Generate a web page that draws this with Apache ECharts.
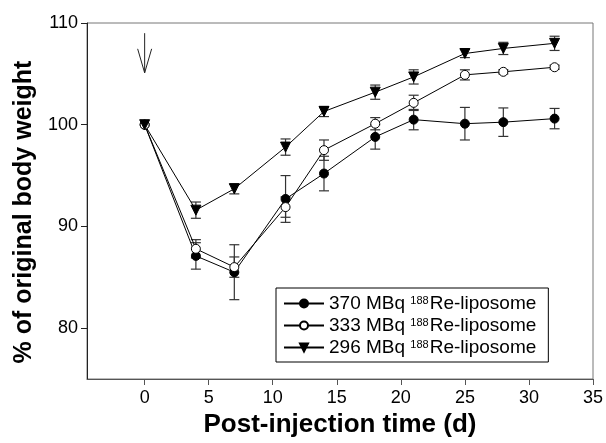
<!DOCTYPE html>
<html><head><meta charset="utf-8">
<script src="https://cdn.jsdelivr.net/npm/echarts@6/dist/echarts.min.js"></script>
<style>html,body{margin:0;padding:0;background:#fff}#c{width:606px;height:443px}</style>
</head><body><div id="c"></div>
<script>
const days = [0, 4, 7, 11, 14, 18, 21, 25, 28, 32];
const doses = ['370 MBq', '333 MBq', '296 MBq'];
const isotopeMass = '188';
const agentName = 'Re-liposome';
const mean370 = [100, 87.1, 85.5, 92.7, 95.2, 98.8, 100.5, 100.1, 100.25, 100.6];
const err370  = [0, 1.3, 2.7, 2.3, 1.7, 1.2, 1.0, 1.6, 1.4, 1.0];
const mean333 = [100, 87.8, 86.0, 91.9, 97.5, 100.1, 102.15, 104.9, 105.2, 105.65];
const err333  = [0, 0.9, 1.0, 1.0, 1.0, 0.6, 0.75, 0.5, 0.2, 0.2];
const mean296 = [100, 91.6, 93.7, 97.8, 101.3, 103.2, 104.7, 107.0, 107.5, 108.0];
const err296  = [0, 0.8, 0.5, 0.8, 0.5, 0.7, 0.7, 0.4, 0.6, 0.7];
const xTicks = [0, 5, 10, 15, 20, 25, 30, 35];
const yTicks = [80, 90, 100, 110];
const arrowDay = 0, arrowTop = 109, arrowTip = 105.1;
const xTitle = 'Post-injection time (d)';
const yTitle = '% of original body weight';

const FONT = 'Liberation Sans';
const chart = echarts.init(document.getElementById('c'), null, {renderer: 'canvas'});

function pairs(xs, ys) { return xs.map((x, i) => [x, ys[i]]); }
function errData(xs, m, e) { return xs.map((x, i) => [x, m[i] - e[i], m[i] + e[i]]); }

function errRender(params, api) {
  const x = api.value(0), lo = api.value(1), hi = api.value(2);
  if (!(hi - lo > 0)) return null;
  const a = api.coord([x, hi]), b = api.coord([x, lo]);
  const w = 5, st = {stroke: '#333', lineWidth: 1.2};
  return {type: 'group', children: [
    {type: 'line', shape: {x1: a[0], y1: a[1], x2: b[0], y2: b[1]}, style: st},
    {type: 'line', shape: {x1: a[0] - w, y1: a[1], x2: a[0] + w, y2: a[1]}, style: st},
    {type: 'line', shape: {x1: b[0] - w, y1: b[1], x2: b[0] + w, y2: b[1]}, style: st}
  ]};
}
function arrowRender(params, api) {
  const t = api.coord([api.value(0), api.value(1)]);
  const p = api.coord([api.value(0), api.value(2)]);
  const st = {stroke: '#222', lineWidth: 1, fill: null};
  return {type: 'group', children: [
    {type: 'line', shape: {x1: t[0], y1: t[1], x2: p[0], y2: p[1]}, style: st},
    {type: 'polyline', shape: {points: [[p[0] - 7, p[1] - 24], [p[0], p[1]], [p[0] + 7, p[1] - 24]]}, style: st}
  ]};
}

function lineSeries(name, data, symbol, fill, rotate, size) {
  return {
    name: name, type: 'line', data: data, symbol: symbol, symbolSize: size, symbolRotate: rotate,
    z: 5, animation: false,
    lineStyle: {color: '#000', width: 1},
    itemStyle: {color: fill, borderColor: '#000', borderWidth: 1}
  };
}
function errSeries(data) {
  return {type: 'custom', renderItem: errRender, data: data, z: 3, silent: true, animation: false,
    encode: {x: 0, y: [1, 2]}};
}

chart.setOption({
  animation: false,
  textStyle: {fontFamily: FONT},
  grid: {left: 87, right: 13, top: 23, bottom: 64, show: true, borderColor: '#777', borderWidth: 1,
    containLabel: false, outerBoundsMode: 'none'},
  xAxis: {
    type: 'value', min: -4.5, max: 35,
    name: xTitle, nameLocation: 'middle', nameGap: 31,
    nameTextStyle: {fontSize: 26, fontWeight: 'bold', color: '#000', fontFamily: FONT},
    axisLine: {onZero: false, lineStyle: {color: '#555', width: 1}},
    axisTick: {show: true, length: 6, customValues: xTicks, lineStyle: {color: '#555'}},
    axisLabel: {customValues: xTicks, fontSize: 18, color: '#000', margin: 10, fontFamily: FONT},
    splitLine: {show: false}
  },
  yAxis: {
    type: 'value', min: 75, max: 110,
    name: yTitle, nameLocation: 'middle', nameGap: 50, nameRotate: 90,
    nameTextStyle: {fontSize: 25, fontWeight: 'bold', color: '#000', fontFamily: FONT, padding: [0, 22, 0, 0]},
    axisLine: {show: true, onZero: false, lineStyle: {color: '#222', width: 1}},
    axisTick: {show: true, length: 6, customValues: yTicks, lineStyle: {color: '#222'}},
    axisLabel: {customValues: yTicks, fontSize: 18, color: '#000', margin: 9, fontFamily: FONT},
    splitLine: {show: false}
  },
  legend: {
    data: doses, orient: 'vertical', left: 276, top: 288,
    padding: [6, 12, 5, 7], itemGap: 3, itemWidth: 40, itemHeight: 10,
    borderColor: '#000', borderWidth: 1, backgroundColor: '#fff',
    formatter: function (n) { return '{n|' + n + ' }{s|' + isotopeMass + '}{n|' + agentName + '}'; },
    textStyle: {
      fontFamily: FONT, color: '#000',
      rich: {
        n: {fontSize: 19, fontFamily: FONT, color: '#000', lineHeight: 17},
        s: {fontSize: 11, fontFamily: FONT, color: '#000', verticalAlign: 'top', lineHeight: 17, padding: [0, 1, 6, 0]}
      }
    }
  },
  series: [
    errSeries(errData(days, mean370, err370)),
    errSeries(errData(days, mean333, err333)),
    errSeries(errData(days, mean296, err296)),
    lineSeries(doses[0], pairs(days, mean370), 'circle', '#000', 0, 9),
    lineSeries(doses[1], pairs(days, mean333), 'circle', '#fff', 0, 9),
    lineSeries(doses[2], pairs(days, mean296), 'triangle', '#000', 180, 10),
    {type: 'custom', renderItem: arrowRender, data: [[arrowDay, arrowTop, arrowTip]], silent: true, animation: false,
      encode: {x: 0, y: [1, 2]}}
  ]
});
</script></body></html>
